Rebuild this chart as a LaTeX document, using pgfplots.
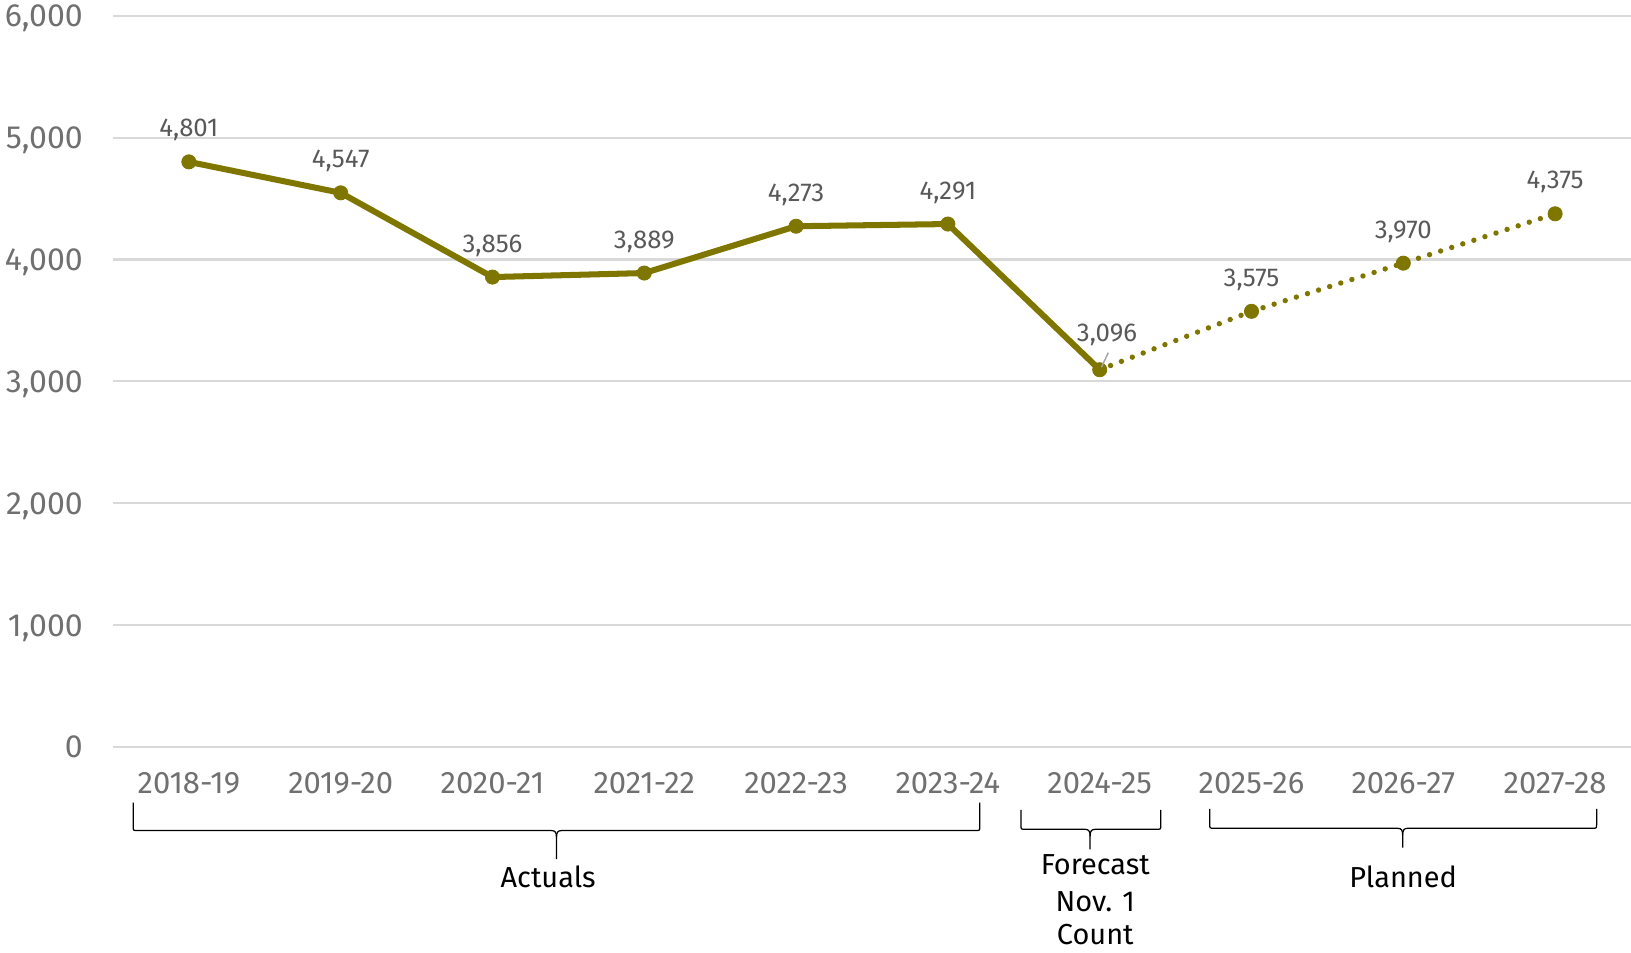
\documentclass[border=0pt]{standalone}
\usepackage{pgfplots}
\pgfplotsset{compat=1.18}
\usepackage{pgfplotstable}
\usepackage{fontspec}
\setmainfont{Fira Sans}

\definecolor{linecol}{RGB}{127,118,0}
\definecolor{gridgray}{RGB}{217,217,217}
\definecolor{tickgray}{RGB}{112,112,112}
\definecolor{labgray}{RGB}{89,89,89}

% enrolment, actuals + forecast (solid) and planned (dotted)
\pgfplotstableread{
x y
0 4801
1 4547
2 3856
3 3889
4 4273
5 4291
6 3096
}\actuals
\pgfplotstableread{
x y
6 3096
7 3575
8 3970
9 4375
}\planned
\pgfplotstableread{
x y dx dy
0 4801 0 0
1 4547 0 0
2 3856 0 0
3 3889 0 0
4 4273 0 0
5 4291 0 0
6 3096 3.5 1.5
7 3575 0 0
8 3970 0 0
9 4375 0 0
}\allpts

\begin{document}
\begin{tikzpicture}
\useasboundingbox (0,0) rectangle (784bp,458bp);
\begin{axis}[
  at={(54.3bp,98.85bp)}, anchor=south west,
  scale only axis, width=729.7bp, height=351.6bp,
  xmin=-0.5, xmax=9.5, ymin=0, ymax=6000,
  axis line style={draw=none},
  major tick length=0pt,
  ytick={0,1000,...,6000},
  scaled y ticks=false,
  ymajorgrids,
  grid style={color=gridgray, line width=1bp},
  xtick={0,...,9},
  xticklabels={2018-19,2019-20,2020-21,2021-22,2022-23,2023-24,2024-25,2025-26,2026-27,2027-28},
  /pgf/number format/assume math mode=true,
  /pgf/number format/1000 sep={,},
  yticklabel style={anchor=base east, inner sep=0pt, xshift=-14.3bp, yshift=-5.2bp,
    font=\fontsize{15.4bp}{18bp}\selectfont, text=tickgray},
  xticklabel style={anchor=base, inner sep=0pt, yshift=-22.1bp,
    font=\fontsize{14.9bp}{17bp}\selectfont, text=tickgray},
  clip=false,
]
\addplot[linecol, line width=2.9bp, line join=round] table[x=x, y=y] {\actuals};
\addplot[linecol, line width=2.6bp, line cap=round, dash pattern=on 0pt off 5.6bp] table[x=x, y=y] {\planned};
\addplot[only marks, mark=*, mark size=3.4bp, mark options={fill=linecol, draw=linecol},
  visualization depends on={\thisrow{dx} \as \dx},
  visualization depends on={\thisrow{dy} \as \dy},
  nodes near coords,
  every node near coord/.append style={anchor=base, inner sep=0pt,
    xshift=\dx bp, yshift=12bp+\dy bp,
    font=\fontsize{12.4bp}{14bp}\selectfont, text=labgray}
] table[x=x, y=y] {\allpts};
\end{axis}

\begin{scope}[x=0.5bp, y=-0.5bp, shift={(0,458bp)}]
  % leader line for 3,096
  \draw[color=gray!70, line width=0.7bp] (1059,353) -- (1065.5,339);
  \begin{scope}[line width=0.6bp, black]
    % Actuals
    \draw (128,771.6) -- (128,794) .. controls (128,798.5) .. (132,798.5) -- (530,798.5)
      .. controls (534,798.5) and (535,800.5) .. (535,805) -- (535,826);
    \draw (942,771.6) -- (942,794) .. controls (942,798.5) .. (938,798.5) -- (540,798.5)
      .. controls (536,798.5) and (535,800.5) .. (535,805);
    % Forecast
    \draw (981.5,778.7) -- (981.5,793) .. controls (981.5,797.3) .. (985.5,797.3) -- (1043,797.3)
      .. controls (1047,797.3) and (1048,799.3) .. (1048,804) -- (1048,816.5);
    \draw (1116,778.7) -- (1116,793) .. controls (1116,797.3) .. (1112,797.3) -- (1053,797.3)
      .. controls (1049,797.3) and (1048,799.3) .. (1048,804);
    % Planned
    \draw (1163,777.7) -- (1163,792) .. controls (1163,796.3) .. (1167,796.3) -- (1343.5,796.3)
      .. controls (1347.5,796.3) and (1348.5,798.3) .. (1348.5,803) -- (1348.5,815);
    \draw (1535,777.7) -- (1535,792) .. controls (1535,796.3) .. (1531,796.3) -- (1353.5,796.3)
      .. controls (1349.5,796.3) and (1348.5,798.3) .. (1348.5,803);
  \end{scope}
  \begin{scope}[every node/.style={anchor=base, inner sep=0pt, font=\fontsize{13.9bp}{17bp}\selectfont, text=black}]
    \node at (527,853.7) {Actuals};
    \node at (1053,841.1) {Forecast};
    \node at (1053,876.4) {Nov. 1};
    \node at (1053,908.5) {Count};
    \node at (1349,853.7) {Planned};
  \end{scope}
\end{scope}
\end{tikzpicture}
\end{document}
